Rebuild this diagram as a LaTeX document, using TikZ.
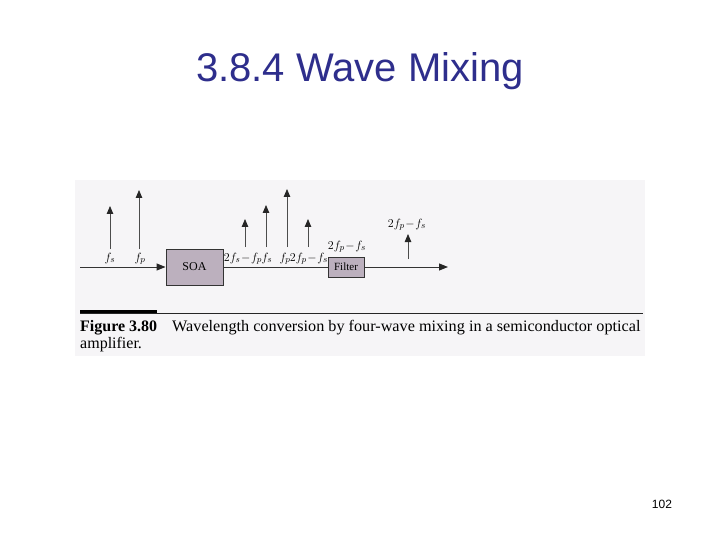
\documentclass[tikz,border=0pt]{standalone}
\usepackage{fontspec}
\setmainfont{Liberation Serif}
\newfontfamily\arialfont{Liberation Sans}
\usetikzlibrary{arrows.meta}
\definecolor{titleblue}{RGB}{46,46,140}
\definecolor{boxfill}{RGB}{188,176,190}
\definecolor{scanbg}{RGB}{246,245,247}
\newcommand{\mn}{\mathbin{\!-\!}}
\begin{document}
\begin{tikzpicture}[x=1pt,y=-1pt,
  spike/.style={draw=gray!60!black, line width=0.8pt, -{Triangle[length=8pt,width=6.5pt,color=black!85]}},
  mainline/.style={draw=black!80, line width=1pt},
  mainarrow/.style={mainline, -{Triangle[length=9pt,width=7pt,color=black!85]}},
  blockbox/.style={draw=black!80, line width=0.9pt, fill=boxfill, inner sep=0pt},
  flabel/.style={inner sep=0pt, anchor=base, font=\fontsize{12.5}{14}\selectfont},
  captext/.style={inner sep=0pt, anchor=base west, font=\fontsize{16}{19}\selectfont}
]
\useasboundingbox (0,0) rectangle (720,540);
\fill[white] (0,0) rectangle (720,540);
\fill[scanbg] (75,180) rectangle (645,356);

% title
\node[text=titleblue, font=\arialfont\fontsize{40}{46}\selectfont, inner sep=0pt, anchor=base] (title) at (360,82) {3.8.4 Wave Mixing};

% blocks
\coordinate (in) at (80,267);
\node[blockbox, minimum width=57pt, minimum height=36pt, font=\fontsize{12}{14}\selectfont] (soa) at (194.5,267) {SOA};
\node[blockbox, minimum width=36pt, minimum height=20pt, font=\fontsize{11}{13}\selectfont] (filt) at (346,267) {Filter};
\coordinate (out) at (448,267);

\draw[mainarrow] (in) -- (soa.west);
\draw[mainline] (soa.east) -- (filt.west);
\draw[mainarrow] (filt.east) -- (out);

% input spikes
\coordinate (b1) at (110,249); \coordinate (t1) at (110,206);
\coordinate (b2) at (139,249); \coordinate (t2) at (139,190);
\draw[spike] (b1) -- (t1);
\draw[spike] (b2) -- (t2);
\node[flabel] (l1) at (110,261) {$f_s$};
\node[flabel] (l2) at (140,261) {$f_p$};

% output spikes after SOA
\coordinate (b3) at (245,247); \coordinate (t3) at (245,219);
\coordinate (b4) at (266,247); \coordinate (t4) at (266,205);
\coordinate (b5) at (287,247); \coordinate (t5) at (287,189);
\coordinate (b6) at (308,247); \coordinate (t6) at (308,219);
\draw[spike] (b3) -- (t3);
\draw[spike] (b4) -- (t4);
\draw[spike] (b5) -- (t5);
\draw[spike] (b6) -- (t6);
\node[flabel] (l3) at (243,261) {$2f_s\mn f_p$};
\node[flabel] (l4) at (267,261) {$f_s$};
\node[flabel] (l5) at (285,261) {$f_p$};
\node[flabel] (l6) at (309,261) {$2f_p\mn f_s$};

% filter label
\node[flabel] (lf) at (347,249) {$2f_p\mn f_s$};

% final spike
\coordinate (b7) at (408,259); \coordinate (t7) at (408,234);
\draw[spike] (b7) -- (t7);
\node[flabel] (l7) at (407,227) {$2f_p\mn f_s$};

% caption rule
\draw[line width=0.8pt, black!85] (80,313) -- (643,313);
\draw[line width=3pt, black] (80,311.5) -- (157,311.5);

% caption
\node[captext] (fig) at (80,331) {\textbf{Figure 3.80}};
\node[captext] (cap1) at (172,331) {\scalebox{1.013}[1]{Wavelength conversion by four-wave mixing in a semiconductor optical}};
\node[captext] (cap2) at (80,348) {amplifier.};

% page number
\node[font=\arialfont\fontsize{12}{14}\selectfont, inner sep=0pt, anchor=base] (pg) at (662,508) {102};
\end{tikzpicture}
\end{document}
